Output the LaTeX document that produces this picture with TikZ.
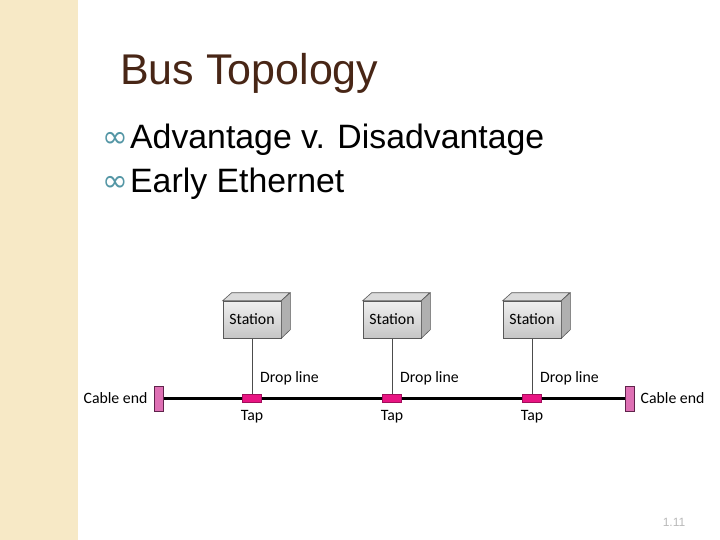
\documentclass[tikz,border=0pt]{standalone}
\usepackage{fontspec}
\setmainfont{Liberation Sans}
\newfontfamily\diagfont{Carlito}
\newfontfamily\symfont{DejaVu Sans}
\usetikzlibrary{positioning, calc, backgrounds}

\definecolor{bandbeige}{RGB}{247,233,198}
\definecolor{titlebrown}{RGB}{72,38,22}
\definecolor{bullteal}{RGB}{84,150,165}
\definecolor{tapmagenta}{RGB}{232,20,130}
\definecolor{endpink}{RGB}{222,112,180}
\definecolor{endborder}{RGB}{95,35,75}

\tikzset{
  station/.style={draw=gray!70!black, line width=0.6pt, top color=gray!12, bottom color=gray!45,
    minimum width=58pt, minimum height=37pt, inner sep=0pt, font=\diagfont\fontsize{15.8}{18}\selectfont},
  tapbox/.style={draw=tapmagenta!70!black, line width=0.4pt, fill=tapmagenta,
    minimum width=19pt, minimum height=8pt, inner sep=0pt},
  cableend/.style={draw=endborder, line width=0.8pt, fill=endpink,
    minimum width=9pt, minimum height=25pt, inner sep=0pt},
  lbl/.style={font=\diagfont\fontsize{15.8}{18}\selectfont, inner sep=0pt},
  bus/.style={line width=3.5pt, black},
  dropline/.style={line width=0.8pt, gray!60!black},
  bullet/.style={text=bullteal, font=\symfont\fontsize{31}{33}\selectfont, inner sep=0pt}
}

\begin{document}
\begin{tikzpicture}[x=1pt, y=-1pt]
  \useasboundingbox (0,0) rectangle (720,540);

  % Slide title and bullets
  \node[anchor=base west, inner sep=0pt, text=titlebrown,
        font=\fontsize{43}{48}\selectfont] (title) at (120,85) {Bus Topology};
  \node[anchor=base west, inner sep=0pt, font=\fontsize{33.8}{38}\selectfont]
        (adv) at (130,149) {Advantage v. Disadvantage};
  \node[bullet, anchor=base east] at ($(adv.base west)+(-1,-1)$) {∞};
  \node[anchor=base west, inner sep=0pt, font=\fontsize{33.8}{38}\selectfont]
        (eth) at (130,193) {Early Ethernet};
  \node[bullet, anchor=base east] at ($(eth.base west)+(-1,-1)$) {∞};

  % Cable ends
  \node[cableend] (endL) at (158.5,398.5) {};
  \node[cableend] (endR) at (629.5,398.5) {};
  \node[lbl, left=6pt of endL] {Cable end};
  \node[lbl, right=6pt of endR] {Cable end};

  % Stations, drop lines and taps
  \foreach \i/\x in {1/252, 2/392, 3/532} {
    \node[station] (st\i) at (\x,319.5) {Station};
    \fill[gray!28, draw=gray!70!black, line width=0.6pt]
      (st\i.north west) -- ++(9,-8) -- ++(58,0) -- (st\i.north east) -- cycle;
    \fill[gray!62, draw=gray!70!black, line width=0.6pt]
      (st\i.north east) -- ++(9,-8) -- ++(0,37) -- (st\i.south east) -- cycle;
    \node[tapbox] (tap\i) at (\x,398.5) {};
    \node[lbl, anchor=west] (drop\i) at (\x+8,378.5) {Drop line};
    \node[lbl, below=7pt of tap\i] (taplbl\i) {Tap};
    \begin{scope}[on background layer]
      \draw[dropline] (st\i.south) -- (tap\i.center);
    \end{scope}
  }

  \begin{scope}[on background layer]
    \fill[bandbeige] (0,0) rectangle (78,540);
    \draw[bus] (endL.east) -- (endR.west);
  \end{scope}

  % Slide number
  \node[text=gray!55, font=\fontsize{12}{14}\selectfont, inner sep=0pt] (pgno) at (674,522) {1.11};
\end{tikzpicture}
\end{document}
